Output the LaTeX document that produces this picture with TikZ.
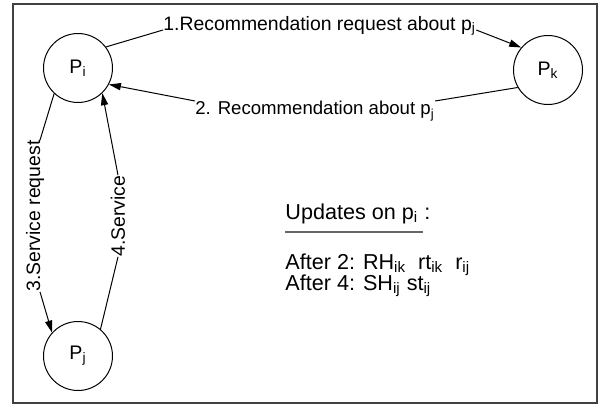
\documentclass[tikz,border=0pt]{standalone}
\usepackage{fontspec}
\setmainfont{Liberation Sans}
\usetikzlibrary{arrows.meta}

\begin{document}
\begin{tikzpicture}[x=0.5pt,y=-0.5pt,
  peer/.style={draw,circle,line width=0.5pt,minimum size=34.5pt,inner sep=0pt,font=\fontsize{9.8}{11}\selectfont},
  msg/.style={inner sep=0pt,font=\fontsize{9.7}{11}\selectfont},
  note/.style={inner sep=0pt,anchor=base west,font=\fontsize{10.8}{12}\selectfont},
  link/.style={line width=0.5pt},
  arr/.style={link,-{Triangle[length=6pt,width=3.6pt]}}]

\useasboundingbox (0,0) rectangle (613,407);
\draw[line width=1pt,black!75] (13,4) rectangle (597,403);

% peers
\node[peer] (pi) at (78,68) {P\textsubscript{i}};
\node[peer] (pk) at (548,70) {P\textsubscript{k}};
\node[peer] (pj) at (78,356) {P\textsubscript{j}};

% messages
\node[msg,anchor=base west] (req) at (163,30) {1.Recommendation request about p\textsubscript{j}};
\node[msg,anchor=north west,font=\fontsize{9.3}{11}\selectfont] (rec) at (195,101) {2. Recommendation about p\textsubscript{j}};
\node[msg,rotate=90] (sreq) at (35,216) {3.Service request};
\node[msg,rotate=90] (srv) at (118,216) {4.Service};

\draw[link] (pi.37) -- (req.base west);
\draw[arr] (req.base east) -- (pk.140);
\draw[link] (pk.210) -- (rec.north east);
\draw[arr] (rec.north west) -- (pi.-28);
\draw[link] (pi.227) -- (sreq.base east);
\draw[arr] (sreq.base west) -- (pj.138);
\draw[link] (pj.50) -- (srv.west);
\draw[arr] (srv.east) -- (pi.-46);

% updates kept by p_i
\node[note] (upd) at (285,219) {Updates on p\textsubscript{i} :};
\draw[black!60,line width=0.75pt] (285,232) -- (423,232);
\node[note] (aft2) at (285,269) {After 2: RH\textsubscript{ik}\ \ rt\textsubscript{ik}\ \ r\textsubscript{ij}};
\node[note] (aft4) at (285,290) {After 4: SH\textsubscript{ij} st\textsubscript{ij}};
\end{tikzpicture}
\end{document}
